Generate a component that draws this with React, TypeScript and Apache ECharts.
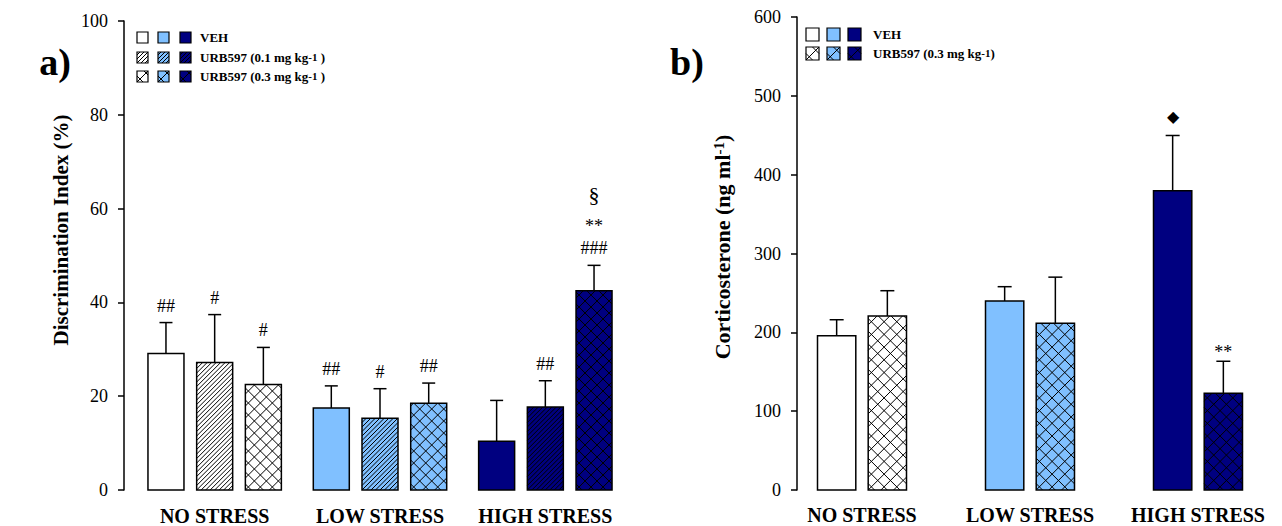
import React, { useEffect, useRef } from "react";
import * as echarts from "echarts";

const FONT = '"Liberation Serif", "Times New Roman", Times, serif';

// ---- data ----
const categories = ["NO STRESS", "LOW STRESS", "HIGH STRESS"];
const categoryFills = ["#FFFFFF", "#80C0FF", "#000080"];

// panel a) Discrimination Index (%)
const diTicks = { min: 0, max: 100, interval: 20 };
const diVeh = [29.1, 17.5, 10.4];
const diVehErr = [6.6, 4.7, 8.7];
const diUrb01 = [27.2, 15.3, 17.7];
const diUrb01Err = [10.2, 6.3, 5.6];
const diUrb03 = [22.5, 18.5, 42.5];
const diUrb03Err = [7.9, 4.3, 5.4];
const diVehMarks = [["##"], ["##"], []];
const diUrb01Marks = [["#"], ["#"], ["##"]];
const diUrb03Marks = [["#"], ["##"], ["###", "**", "§"]];

// panel b) Corticosterone (ng ml-1)
const cortTicks = { min: 0, max: 600, interval: 100 };
const cortVeh = [195.7, 239.8, 379.7];
const cortVehErr = [20.3, 18.1, 70.0];
const cortUrb03 = [220.7, 211.4, 122.6];
const cortUrb03Err = [32.1, 58.6, 40.7];
const cortVehMarks = [[], [], ["◆"]];
const cortUrb03Marks = [[], [], ["**"]];

// ---- hatch helpers ----
function hatchLines(x0, y0, x1, y1, pattern, s) {
  const out = [];
  const w = x1 - x0;
  const h = y1 - y0;
  const style = { stroke: "#000", lineWidth: 1 };
  if (pattern === "diag" || pattern === "cross") {
    // "/" lines : x + y = c
    const kMin = -Math.ceil(h / s) - 1;
    const kMax = Math.ceil(w / s) + 1;
    for (let k = kMin; k <= kMax; k++) {
      const c = x0 + y1 + k * s;
      const xa = Math.max(x0, c - y1);
      const xb = Math.min(x1, c - y0);
      if (xb - xa > 0.3) {
        out.push({ type: "line", silent: true, shape: { x1: xa, y1: c - xa, x2: xb, y2: c - xb }, style });
      }
    }
  }
  if (pattern === "cross") {
    // "\" lines : x - y = c
    const kMax = Math.ceil((w + h) / s) + 1;
    for (let k = -1; k <= kMax; k++) {
      const c = x0 - y1 + s / 2 + k * s;
      const xa = Math.max(x0, c + y0);
      const xb = Math.min(x1, c + y1);
      if (xb - xa > 0.3) {
        out.push({ type: "line", silent: true, shape: { x1: xa, y1: xa - c, x2: xb, y2: xb - c }, style });
      }
    }
  }
  return out;
}

const markFont = (t) => {
  if (t[0] === "§") return { size: 22, first: 20 };
  if (t[0] === "*") return { size: 18, first: 9 };
  if (t[0] === "◆") return { size: 16, first: 19 };
  return { size: 18, first: 17 };
};

function makeRenderer(cfg) {
  return (params, api) => {
    const ci = api.value(0);
    const v = api.value(1);
    const e = api.value(2);
    const base = api.coord([ci, 0]);
    const cx = base[0];
    const yBase = base[1];
    const yTop = api.coord([ci, v])[1];
    const yErr = api.coord([ci, v + e])[1];
    const xc = cx + (cfg.slot - (cfg.nSlots - 1) / 2) * cfg.step;
    const x0 = xc - cfg.barW / 2;
    const x1 = xc + cfg.barW / 2;
    const children = [];
    children.push({
      type: "rect",
      shape: { x: x0, y: yTop, width: x1 - x0, height: yBase - yTop },
      style: { fill: categoryFills[ci], stroke: "none" },
    });
    children.push(...hatchLines(x0, yTop, x1, yBase, cfg.pattern, cfg.pattern === "diag" ? cfg.diagStep : cfg.crossStep));
    children.push({
      type: "rect",
      shape: { x: x0, y: yTop, width: x1 - x0, height: yBase - yTop },
      style: { fill: "none", stroke: "#000", lineWidth: 1.5 },
    });
    children.push({
      type: "line",
      shape: { x1: xc, y1: yTop, x2: xc, y2: yErr },
      style: { stroke: "#000", lineWidth: 1.5 },
    });
    children.push({
      type: "line",
      shape: { x1: xc - cfg.capW / 2, y1: yErr, x2: xc + cfg.capW / 2, y2: yErr },
      style: { stroke: "#000", lineWidth: 1.5 },
    });
    const marks = cfg.marks[params.dataIndex] || [];
    const offsets = [0, 22, 54];
    let first = 0;
    marks.forEach((t, i) => {
      const f = markFont(t);
      if (i === 0) first = f.first;
      children.push({
        type: "text",
        style: {
          text: t,
          x: xc,
          y: yErr - first - offsets[i],
          align: "center",
          verticalAlign: "middle",
          fontFamily: FONT,
          fontSize: f.size,
          fill: "#000",
        },
      });
    });
    return { type: "group", children };
  };
}

function customSeries(gridIdx, vals, errs, cfg) {
  return {
    type: "custom",
    xAxisIndex: gridIdx,
    yAxisIndex: gridIdx,
    encode: { x: 0, y: 1 },
    data: vals.map((v, i) => [i, v, errs[i]]),
    renderItem: makeRenderer(cfg),
    silent: true,
  };
}

// ---- legend graphics ----
function swatch(x, y, size, fill, pattern, diagStep, crossStep) {
  return [
    { type: "rect", shape: { x, y, width: size, height: size }, style: { fill, stroke: "none" } },
    ...hatchLines(x, y, x + size, y + size, pattern, pattern === "diag" ? diagStep : crossStep),
    { type: "rect", shape: { x, y, width: size, height: size }, style: { fill: "none", stroke: "#000", lineWidth: 1.2 } },
  ];
}

function legendText(x, y, text, size) {
  return {
    type: "text",
    style: {
      text,
      x,
      y,
      align: "left",
      verticalAlign: "middle",
      fontFamily: FONT,
      fontWeight: "bold",
      fontSize: size,
      fill: "#000",
      rich: {
        sup: { fontFamily: FONT, fontWeight: "bold", fontSize: size - 2, fill: "#000", verticalAlign: "top" },
      },
    },
  };
}

export default function App() {
  const ref = useRef(null);
  useEffect(() => {
    const chart = echarts.init(ref.current, null, { renderer: "svg" });

    const leftCfg = { nSlots: 3, step: 48.7, barW: 36, capW: 13, diagStep: 4.5, crossStep: 12 };
    const rightCfg = { nSlots: 2, step: 50.7, barW: 38.3, capW: 14, diagStep: 4.5, crossStep: 12.7 };

    const axisLabel = { fontFamily: FONT, fontSize: 18, color: "#000", margin: 16 };
    const xLabel = (m) => ({ fontFamily: FONT, fontWeight: "bold", fontSize: 20, color: "#000", margin: m, interval: 0, hideOverlap: false });

    const legendEls = [];
    const lx = [137, 158, 180];
    const ly = [32, 52, 71];
    const ls = 11;
    lx.forEach((x, i) => {
      legendEls.push(...swatch(x, ly[0], ls, categoryFills[i], "none", 4, 12));
      legendEls.push(...swatch(x, ly[1], ls, categoryFills[i], "diag", 4, 12));
      legendEls.push(...swatch(x, ly[2], ls, categoryFills[i], "cross", 4, 12));
    });
    legendEls.push(legendText(200, ly[0] + ls / 2, "VEH", 13));
    legendEls.push(legendText(200, ly[1] + ls / 2, "URB597 (0.1 mg kg{sup|-1} )", 13));
    legendEls.push(legendText(200, ly[2] + ls / 2, "URB597 (0.3 mg kg{sup|-1} )", 13));

    const rx = [806, 827, 848];
    const ry = [28, 47];
    const rs = 13;
    rx.forEach((x, i) => {
      legendEls.push(...swatch(x, ry[0], rs, categoryFills[i], "none", 4, 13));
      legendEls.push(...swatch(x, ry[1], rs, categoryFills[i], "cross", 4, 13));
    });
    legendEls.push(legendText(873, ry[0] + rs / 2, "VEH", 13));
    legendEls.push(legendText(873, ry[1] + rs / 2, "URB597 (0.3 mg kg{sup|-1})", 13));

    const option = {
      animation: false,
      backgroundColor: "#fff",
      grid: [
        { left: 132, top: 21, width: 496, height: 470 },
        { left: 778, top: 17, width: 507, height: 473 },
      ],
      xAxis: [
        { gridIndex: 0, type: "category", data: categories, axisLine: { show: false }, axisTick: { show: false }, axisLabel: xLabel(16), splitLine: { show: false } },
        { gridIndex: 1, type: "category", data: categories, axisLine: { show: false }, axisTick: { show: false }, axisLabel: xLabel(15), splitLine: { show: false } },
      ],
      yAxis: [
        {
          gridIndex: 0, type: "value", min: diTicks.min, max: diTicks.max, interval: diTicks.interval, offset: 8,
          axisLine: { show: true, lineStyle: { color: "#000", width: 1.5 } },
          axisTick: { show: true, length: 6, lineStyle: { color: "#000", width: 1.5 } },
          axisLabel, splitLine: { show: false },
        },
        {
          gridIndex: 1, type: "value", min: cortTicks.min, max: cortTicks.max, interval: cortTicks.interval, offset: -19,
          axisLine: { show: true, lineStyle: { color: "#000", width: 1.5 } },
          axisTick: { show: true, length: 6, lineStyle: { color: "#000", width: 1.5 } },
          axisLabel, splitLine: { show: false },
        },
      ],
      graphic: [
        { type: "text", style: { text: "a)", x: 55, y: 62, align: "center", verticalAlign: "middle", fontFamily: FONT, fontWeight: "bold", fontSize: 38, fill: "#000" } },
        { type: "text", style: { text: "b)", x: 687, y: 62, align: "center", verticalAlign: "middle", fontFamily: FONT, fontWeight: "bold", fontSize: 38, fill: "#000" } },
        {
          type: "text", x: 61, y: 230, rotation: Math.PI / 2,
          style: { text: "Discrimination Index (%)", x: 0, y: 0, align: "center", verticalAlign: "middle", fontFamily: FONT, fontWeight: "bold", fontSize: 21, fill: "#000" },
        },
        {
          type: "text", x: 722, y: 247, rotation: Math.PI / 2,
          style: {
            text: "Corticosterone (ng ml{sup|-1})", x: 0, y: 0, align: "center", verticalAlign: "middle",
            fontFamily: FONT, fontWeight: "bold", fontSize: 22, fill: "#000",
            rich: { sup: { fontFamily: FONT, fontWeight: "bold", fontSize: 15, fill: "#000", verticalAlign: "top" } },
          },
        },
        ...legendEls,
      ],
      series: [
        customSeries(0, diVeh, diVehErr, { ...leftCfg, slot: 0, pattern: "none", marks: diVehMarks }),
        customSeries(0, diUrb01, diUrb01Err, { ...leftCfg, slot: 1, pattern: "diag", marks: diUrb01Marks }),
        customSeries(0, diUrb03, diUrb03Err, { ...leftCfg, slot: 2, pattern: "cross", marks: diUrb03Marks }),
        customSeries(1, cortVeh, cortVehErr, { ...rightCfg, slot: 0, pattern: "none", marks: cortVehMarks }),
        customSeries(1, cortUrb03, cortUrb03Err, { ...rightCfg, slot: 1, pattern: "cross", marks: cortUrb03Marks }),
      ],
    };
    chart.setOption(option);
    return () => chart.dispose();
  }, []);
  return <div ref={ref} style={{ position: "absolute", left: 0, top: 0, width: 1282, height: 526 }} />;
}
